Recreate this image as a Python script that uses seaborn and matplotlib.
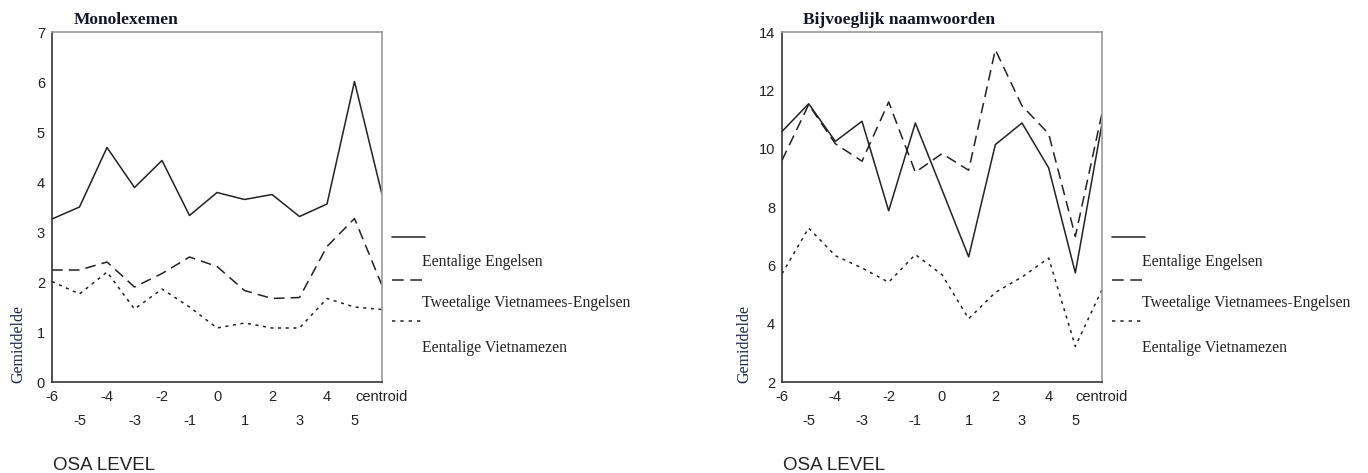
import matplotlib
matplotlib.use("Agg")
import matplotlib.pyplot as plt
import seaborn as sns
import pandas as pd
from matplotlib.lines import Line2D


# ==========================
# DATA
# ==========================

osa_labels = ["-6", "-5", "-4", "-3", "-2", "-1", "0", "1", "2", "3", "4", "5", "centroid"]

groups = ["Eentalige Engelsen", "Tweetalige Vietnamees-Engelsen", "Eentalige Vietnamezen"]

mono_eng = [3.26, 3.50, 4.69, 3.89, 4.43, 3.33, 3.79, 3.65, 3.75, 3.31, 3.56, 6.01, 3.75]
mono_bil = [2.24, 2.24, 2.40, 1.90, 2.17, 2.50, 2.31, 1.83, 1.67, 1.69, 2.71, 3.27, 1.93]
mono_viet = [2.01, 1.76, 2.20, 1.46, 1.86, 1.50, 1.08, 1.18, 1.08, 1.08, 1.67, 1.50, 1.45]

adj_eng = [10.59, 11.54, 10.25, 10.94, 7.87, 10.88, 8.59, 6.29, 10.14, 10.88, 9.34, 5.74, 10.86]
adj_bil = [9.60, 11.51, 10.17, 9.57, 11.60, 9.19, 9.83, 9.26, 13.39, 11.47, 10.51, 6.99, 11.22]
adj_viet = [5.71, 7.28, 6.33, 5.91, 5.42, 6.37, 5.68, 4.17, 5.07, 5.60, 6.25, 3.22, 5.17]


def to_long(series):
    rows = []
    for g, vals in zip(groups, series):
        for i, v in enumerate(vals):
            rows.append({"pos": i, "groep": g, "waarde": v})
    return pd.DataFrame(rows)


mono_df = to_long([mono_eng, mono_bil, mono_viet])
adj_df = to_long([adj_eng, adj_bil, adj_viet])

dash_map = {
    groups[0]: "",
    groups[1]: (7, 4),
    groups[2]: (2, 3),
}


# ==========================
# FIGURE
# ==========================

sns.set_theme(style="white")
plt.rcParams["font.family"] = ["Liberation Sans", "DejaVu Sans"]

fig = plt.figure(figsize=(13.68, 4.73), dpi=100)

ax1 = fig.add_axes([52 / 1368, 1 - 382 / 473, 330 / 1368, 350 / 473])
ax2 = fig.add_axes([782 / 1368, 1 - 382 / 473, 320 / 1368, 350 / 473])

panels = [
    (ax1, mono_df, "Monolexemen", (0, 7), list(range(0, 8))),
    (ax2, adj_df, "Bijvoeglijk naamwoorden", (2, 14), list(range(2, 15, 2))),
]

for ax, df, title, ylim, yticks in panels:

    sns.lineplot(
        data=df, x="pos", y="waarde", style="groep",
        dashes=dash_map, color="#222222", linewidth=1.1,
        legend=False, ax=ax
    )

    ax.set_xlim(0, len(osa_labels) - 1)
    ax.set_ylim(*ylim)
    ax.set_yticks(yticks)
    ax.set_xticks(range(len(osa_labels)))
    ax.set_xticklabels(osa_labels)
    ax.set_xlabel("")
    ax.set_ylabel("")

    ax.tick_params(axis="both", which="major", direction="out", length=3,
                   width=1, colors="#333333", labelsize=10.5, labelcolor="#222222")
    ax.tick_params(axis="y", pad=2)

    # staggered x tick labels
    for i, tick in enumerate(ax.xaxis.get_major_ticks()):
        tick.set_pad(3 if i % 2 == 0 else 20)

    for side in ["left", "bottom"]:
        ax.spines[side].set_color("#333333")
        ax.spines[side].set_linewidth(1.2)
    for side in ["top", "right"]:
        ax.spines[side].set_color("#9a9a9a")
        ax.spines[side].set_linewidth(1.2)

    ax.text(0.065, 1.01, title, transform=ax.transAxes, ha="left", va="bottom",
            fontsize=12.5, fontweight="bold", family="Liberation Serif", color="#141428")


# ==========================
# TEXT LABELS
# ==========================

for x in [18, 744]:
    fig.text(x / 1368, 1 - 383 / 473, "Gemiddelde", rotation=90, ha="center", va="bottom",
             fontsize=11.5, family="Liberation Serif", color="#202848")

for x in [53, 783]:
    fig.text(x / 1368, 1 - 470 / 473, "OSA LEVEL", ha="left", va="baseline",
             fontsize=13.5, color="#222222")


# ==========================
# LEGENDS (manual)
# ==========================

styles = ["-", (0, (7, 4)), (0, (2, 3))]
line_y = [237, 280, 321]
text_y = [262, 303, 348]

for x0 in [392, 1112]:
    for g, ls, ly, ty in zip(groups, styles, line_y, text_y):
        fig.add_artist(Line2D(
            [x0 / 1368, (x0 + 33) / 1368], [1 - ly / 473, 1 - ly / 473],
            transform=fig.transFigure, color="#333333", linewidth=1.2, linestyle=ls
        ))
        fig.text((x0 + 30) / 1368, 1 - ty / 473, g, ha="left", va="center",
                 fontsize=11.3, family="Liberation Serif", color="#222222")

plt.savefig("out.png", dpi=100)
plt.close()
